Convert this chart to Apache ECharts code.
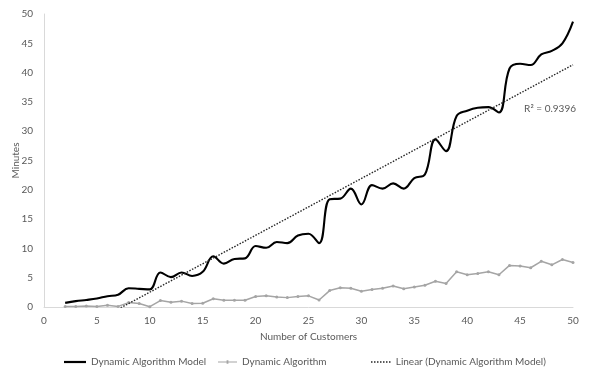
<!DOCTYPE html>
<html>
<head>
<meta charset="utf-8">
<script src="https://cdn.jsdelivr.net/npm/echarts@6/dist/echarts.min.js"></script>
<style>html,body{margin:0;padding:0;background:#fff;}#c{width:589px;height:374px;}</style>
</head>
<body>
<div id="c"></div>
<script>
const customers = [2,3,4,5,6,7,8,9,10,11,12,13,14,15,16,17,18,19,20,21,22,23,24,25,26,27,28,29,30,31,32,33,34,35,36,37,38,39,40,41,42,43,44,45,46,47,48,49,50];
const modelMinutes = [0.7,1.0,1.2,1.45,1.85,2.1,3.2,3.1,3.0,5.9,5.1,5.9,5.3,6.0,8.65,7.4,8.2,8.3,10.4,10.1,11.1,10.9,12.2,12.5,10.9,18.4,18.5,20.2,17.5,20.8,20.2,21.1,20.2,22.0,22.6,28.6,26.6,32.6,33.5,34.0,34.1,33.2,40.7,41.5,41.3,43.1,43.7,45.0,48.7];
const algoMinutes = [0.1,0.1,0.15,0.1,0.3,0.1,0.75,0.6,0.05,1.1,0.8,1.0,0.6,0.65,1.4,1.15,1.15,1.15,1.8,1.9,1.7,1.6,1.8,1.9,1.2,2.8,3.3,3.2,2.7,3.0,3.2,3.6,3.1,3.4,3.7,4.4,4.0,6.0,5.5,5.7,6.0,5.5,7.1,7.0,6.7,7.8,7.2,8.1,7.6];
const seriesNames = ['Dynamic Algorithm Model','Dynamic Algorithm','Linear (Dynamic Algorithm Model)'];
const r2Label = 'R² = 0.9396';

// least squares trendline of the model series
const n = customers.length;
let sx=0, sy=0, sxx=0, sxy=0;
for (let i=0;i<n;i++){sx+=customers[i];sy+=modelMinutes[i];sxx+=customers[i]*customers[i];sxy+=customers[i]*modelMinutes[i];}
const slope = (n*sxy - sx*sy)/(n*sxx - sx*sx);
const icpt = (sy - slope*sx)/n;
const xFirst = customers[0], xLast = customers[n-1];
const trend = [[xFirst, icpt+slope*xFirst],[xLast, icpt+slope*xLast]];

const font = 'Lato, "Noto Sans", sans-serif';
const txt = '#595959';
const fs = 10;
let dots = '';
for (let k=0;k<7;k++){dots += 'M'+(k*3)+',0h1.5v1.5h-1.5z ';}
const legText = {color:txt,fontSize:fs,fontFamily:font};
const chart = echarts.init(document.getElementById('c'));
chart.setOption({
  animation:false,
  textStyle:{fontFamily:font},
  grid:{left:44,right:16,top:14,bottom:67,containLabel:false,outerBoundsMode:'none'},
  xAxis:{type:'value',min:0,max:50,interval:5,
    name:'Number of Customers',nameLocation:'middle',nameGap:25,nameMoveOverlap:false,
    nameTextStyle:{color:txt,fontSize:fs,fontFamily:font},
    axisLine:{show:true,lineStyle:{color:'#d9d9d9',width:1}},
    axisTick:{show:false},splitLine:{show:false},
    axisLabel:{color:txt,fontSize:fs,margin:9,fontFamily:font}},
  yAxis:{type:'value',min:0,max:50,interval:5,
    name:'Minutes',nameLocation:'middle',nameGap:23,nameRotate:90,nameMoveOverlap:false,
    nameTextStyle:{color:txt,fontSize:fs,fontFamily:font},
    axisLine:{show:true,lineStyle:{color:'#d9d9d9',width:1}},
    axisTick:{show:false},splitLine:{show:false},
    axisLabel:{color:txt,fontSize:fs,margin:11,fontFamily:font}},
  legend:[
    {data:[seriesNames[0]],left:59,top:352,icon:'rect',itemWidth:22,itemHeight:2.2,textStyle:legText},
    {data:[seriesNames[1]],left:213,top:352,icon:'path://M0,1.6h25v1.4h-25z M11.3,0h2.4v4.6h-2.4z',itemWidth:19,itemHeight:4,textStyle:legText},
    {data:[seriesNames[2]],left:366,top:352,icon:'path://'+dots,itemWidth:20,itemHeight:1.5,textStyle:legText}
  ],
  series:[
    {name:seriesNames[0],type:'line',smooth:0.4,symbol:'none',
      lineStyle:{color:'#000000',width:2.1},itemStyle:{color:'#000000'},
      data:customers.map((x,i)=>[x,modelMinutes[i]]),z:3},
    {name:seriesNames[1],type:'line',smooth:false,symbol:'circle',symbolSize:3,
      lineStyle:{color:'#a5a5a5',width:1.5},itemStyle:{color:'#a5a5a5'},
      data:customers.map((x,i)=>[x,algoMinutes[i]]),z:2},
    {name:seriesNames[2],type:'line',symbol:'none',clip:true,
      lineStyle:{color:'#262626',width:1.4,type:[1.5,1.5]},itemStyle:{color:'#262626'},
      data:trend,z:4}
  ],
  graphic:[{type:'text',right:13,top:104,style:{text:r2Label,fill:txt,font:fs+'px '+font}}]
});
</script>
</body>
</html>
